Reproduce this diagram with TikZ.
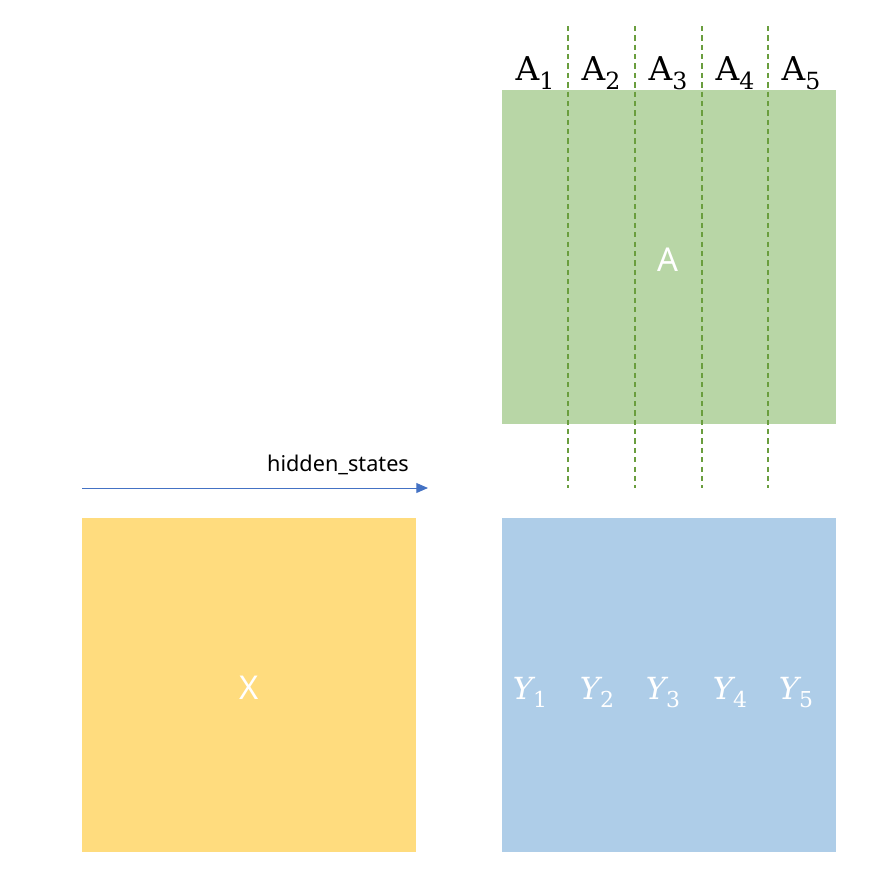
\documentclass[tikz,border=0pt]{standalone}
\usepackage{fontspec}
\setsansfont{Noto Sans}
\newfontfamily\blocklabel{DejaVu Serif}
\usetikzlibrary{arrows.meta}
\definecolor{matA}{HTML}{B8D6A6}
\definecolor{matX}{HTML}{FFDC7E}
\definecolor{matY}{HTML}{AECDE8}
\definecolor{cutline}{HTML}{6A9E3E}
\definecolor{flow}{HTML}{4472C4}
\newcommand{\blocksub}[1]{\raisebox{-0.28em}{\fontsize{0.72em}{0.72em}\selectfont\upshape #1}}
\tikzset{
  whitelabel/.style={text=white, font=\sffamily\fontsize{28}{28}\selectfont},
  sublabel/.style={font=\blocklabel\fontsize{28}{28}\selectfont},
  ylabel/.style={text=white, font=\blocklabel\itshape\fontsize{26}{26}\selectfont},
  cut/.style={cutline, line width=1pt, dash pattern=on 4.5pt off 3.5pt},
}
\begin{document}
\begin{tikzpicture}[x=0.03cm, y=-0.03cm]
    \useasboundingbox (0,0) rectangle (888,896);
    % matrix A, split into five column blocks
    \fill[matA] (502,90) rectangle (836,424);
    \node[whitelabel] (A) at (668,260) {A};
    \foreach \i/\x in {1/568, 2/635, 3/702, 4/768} {
        \draw[cut] (\x,26) -- (\x,488);
    }
    \foreach \i/\x in {1/535, 2/601, 3/668, 4/735, 5/801} {
        \node[sublabel, anchor=base] (A\i) at (\x,80) {A\blocksub{\i}};
    }
    % input X
    \fill[matX] (82,518) rectangle (416,852);
    \node[whitelabel] (X) at (249,688) {X};
    % hidden_states direction
    \coordinate (hs start) at (82,488);
    \coordinate (hs end) at (428,488);
    \draw[flow, line width=0.8pt, -{Triangle[length=10pt, width=8.5pt]}] (hs start) -- (hs end);
    \node[font=\sffamily\fontsize{18.5}{18.5}\selectfont, anchor=south east] (hs) at (413,479) {hidden\_states};
    % output Y, one block per column of A
    \fill[matY] (502,518) rectangle (836,852);
    \foreach \i/\x in {1/530, 2/597, 3/663, 4/730, 5/796} {
        \node[ylabel, anchor=base] (Y\i) at (\x,699) {Y\blocksub{\i}};
    }
\end{tikzpicture}
\end{document}
